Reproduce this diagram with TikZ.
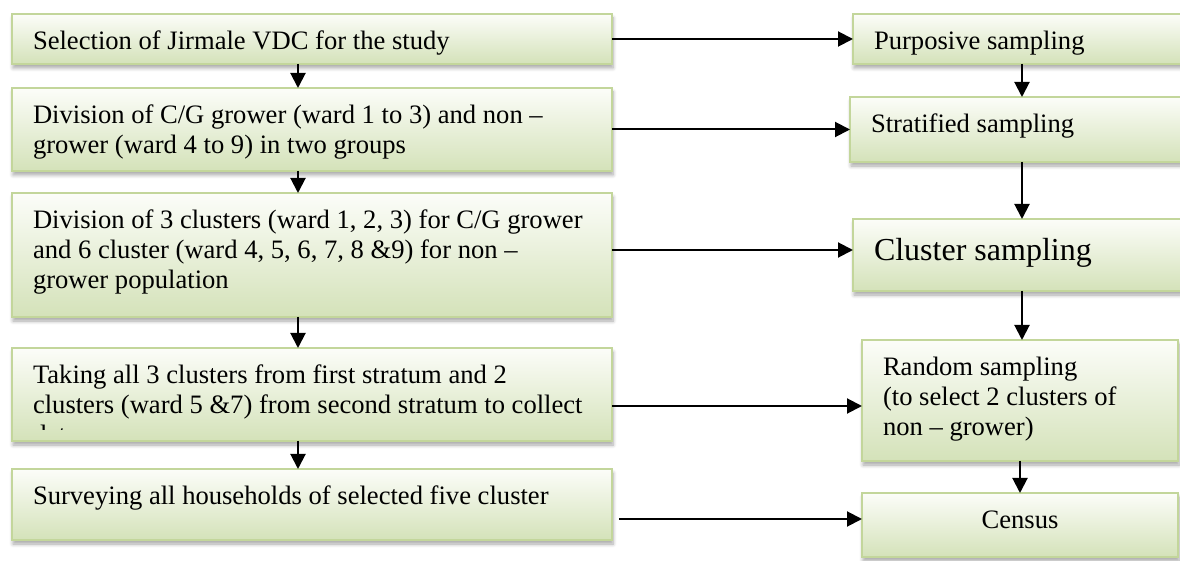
\documentclass[tikz,border=0pt]{standalone}
\usepackage{fontspec}
\setmainfont{Liberation Serif}
\usetikzlibrary{positioning, arrows.meta, shadows.blur}
\definecolor{boxline}{HTML}{C3D69B}
\definecolor{boxtop}{HTML}{FCFDF9}
\definecolor{boxbottom}{HTML}{D4E2B9}
\tikzset{
  stage/.style={rectangle, draw=boxline, line width=1pt, top color=boxtop, bottom color=boxbottom,
    blur shadow={shadow xshift=0.5pt, shadow yshift=-2pt, shadow opacity=35, shadow blur steps=6},
    inner xsep=10.5pt, inner ysep=0pt, outer sep=0pt, text height=18pt, align=flush left, anchor=north west,
    font=\fontsize{13.3}{15}\selectfont}, % sets the look of every box
  link/.style={-{Triangle[length=7.5pt, width=7.5pt]}, line width=1pt}, % directed connectors
  node distance=12pt % gap between two boxes. Change if necessary.
}

\begin{document}
\begin{tikzpicture}[x=0.5pt, y=-0.5pt]

    \useasboundingbox (0,0) rectangle (1180,561);

    \node[stage, text width=279pt, text depth=7pt] (selection) at (12,14) {Selection of Jirmale VDC for the study};
    \node[stage, text width=279pt, text depth=23.5pt, below=12pt of selection] (division_groups) {Division of C/G grower (ward 1 to 3) and non –\\grower (ward 4 to 9) in two groups};
    \node[stage, text width=279pt, text depth=44pt, below=11pt of division_groups] (division_clusters) {Division of 3 clusters (ward 1, 2, 3) for C/G grower\\and 6 cluster (ward 4, 5, 6, 7, 8 \&9) for non –\\grower population};
    \node[stage, text width=279pt, text depth=28.5pt, below=15.5pt of division_clusters] (taking_clusters) {Taking all 3 clusters from first stratum and 2\\clusters (ward 5 \&7) from second stratum to collect};
    \node[stage, text width=279pt, text depth=17.5pt, below=14pt of taking_clusters] (surveying) {Surveying all households of selected five cluster};

    \node[stage, text width=148pt, text depth=7pt, right=120.5pt of selection] (purposive) {Purposive sampling};
    \node[stage, text width=151pt, text depth=14.5pt, right=119pt of division_groups] (stratified) {Stratified sampling};
    \node[stage, text width=148pt, text height=21pt, text depth=15pt, font=\fontsize{16}{18}\selectfont, right=120.5pt of division_clusters] (cluster) {Cluster sampling};
    \node[stage, text width=137pt, text depth=42.5pt, below right=24.5pt and 4.5pt of cluster.south west] (random) {Random sampling\\(to select 2 clusters of\\non – grower)};
    \node[stage, text width=137pt, text depth=14pt, align=center, below=16pt of random] (census) {Census};

    % last line of the fourth box is cut off by the box
    \begin{scope}
      \clip (taking_clusters.north west) rectangle ([yshift=5.5pt]taking_clusters.south east);
      \node[anchor=base west, inner sep=0pt, font=\fontsize{13.3}{15}\selectfont] (taking_rest) at ([xshift=10.5pt, yshift=-48pt]taking_clusters.north west) {data};
    \end{scope}

    \path[link]
      ([xshift=-7pt]selection.south) edge ([xshift=-7pt]division_groups.north)
      ([xshift=-7pt]division_groups.south) edge ([xshift=-7pt]division_clusters.north)
      ([xshift=-7pt]division_clusters.south) edge ([xshift=-7pt]taking_clusters.north)
      ([xshift=-7pt]taking_clusters.south) edge ([xshift=-7pt]surveying.north)
      (purposive) edge (stratified)
      (stratified) edge (cluster)
      (cluster.south) edge (cluster.south |- random.north)
      (random) edge (census)
      (selection.east) edge (purposive.west)
      (division_groups.east) edge (stratified.west)
      ([yshift=2.5pt]division_clusters.east) edge ([yshift=2.5pt]division_clusters.east -| cluster.west)
      ([yshift=-5.75pt]taking_clusters.east) edge ([yshift=-5.75pt]taking_clusters.east -| random.west)
      ([xshift=3.5pt, yshift=-7.25pt]surveying.east) edge ([yshift=-7.25pt]surveying.east -| census.west)
      ;
\end{tikzpicture}
\end{document}
